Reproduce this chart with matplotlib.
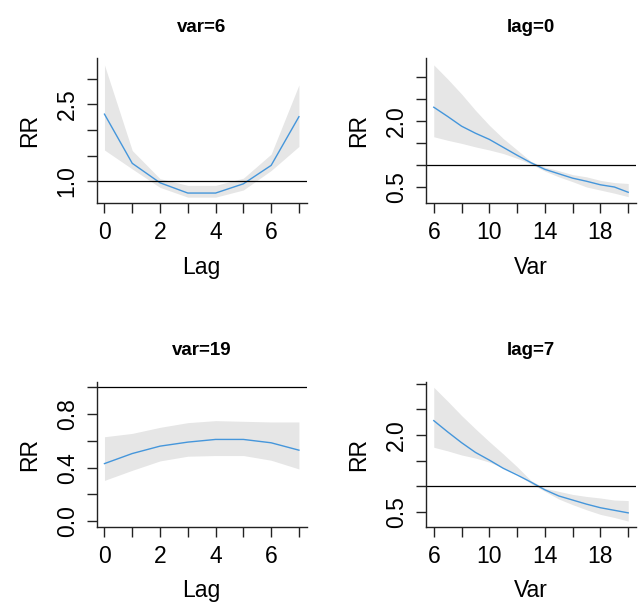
import matplotlib.pyplot as plt

plt.rcParams['font.family'] = ['Liberation Sans', 'DejaVu Sans']

# lag-response at var=6 and var=19
lag = [0, 1, 2, 3, 4, 5, 6, 7]
rr_v6 = [2.31, 1.35, 0.97, 0.77, 0.77, 0.95, 1.31, 2.26]
lo_v6 = [1.61, 1.24, 0.88, 0.69, 0.69, 0.83, 1.21, 1.68]
hi_v6 = [3.27, 1.60, 1.05, 0.92, 0.92, 1.06, 1.53, 2.88]

rr_v19 = [0.43, 0.505, 0.56, 0.59, 0.61, 0.61, 0.585, 0.53]
lo_v19 = [0.305, 0.38, 0.45, 0.485, 0.49, 0.49, 0.455, 0.39]
hi_v19 = [0.63, 0.655, 0.70, 0.735, 0.75, 0.745, 0.74, 0.74]

# exposure-response at lag=0 and lag=7
var = [6, 7, 8, 9, 10, 11, 12, 13, 14, 15, 16, 17, 18, 19, 20]
rr_l0 = [2.31, 2.10, 1.88, 1.72, 1.58, 1.40, 1.22, 1.05, 0.90, 0.80, 0.70, 0.63, 0.55, 0.50, 0.38]
lo_l0 = [1.64, 1.56, 1.49, 1.41, 1.34, 1.26, 1.15, 1.02, 0.86, 0.73, 0.62, 0.50, 0.43, 0.36, 0.28]
hi_l0 = [3.27, 2.95, 2.61, 2.24, 1.90, 1.60, 1.34, 1.08, 0.95, 0.87, 0.78, 0.73, 0.65, 0.60, 0.58]

rr_l7 = [2.28, 2.06, 1.85, 1.66, 1.51, 1.35, 1.22, 1.08, 0.93, 0.81, 0.73, 0.65, 0.58, 0.53, 0.48]
lo_l7 = [1.76, 1.69, 1.61, 1.55, 1.47, 1.36, 1.25, 1.05, 0.90, 0.75, 0.64, 0.54, 0.45, 0.39, 0.32]
hi_l7 = [2.93, 2.66, 2.38, 2.12, 1.87, 1.63, 1.38, 1.11, 0.96, 0.90, 0.84, 0.80, 0.77, 0.73, 0.72]

panels = [
    ("var=6", "Lag", lag, rr_v6, lo_v6, hi_v6, (0.57, 3.40),
     [1.0, 1.5, 2.0, 2.5, 3.0], ["1.0", "", "", "2.5", ""]),
    ("lag=0", "Var", var, rr_l0, lo_l0, hi_l0, (0.13, 3.42),
     [0.5, 1.0, 1.5, 2.0, 2.5, 3.0], ["0.5", "", "", "2.0", "", ""]),
    ("var=19", "Lag", lag, rr_v19, lo_v19, hi_v19, (-0.04, 1.04),
     [0.0, 0.2, 0.4, 0.6, 0.8, 1.0], ["0.0", "", "0.4", "", "0.8", ""]),
    ("lag=7", "Var", var, rr_l7, lo_l7, hi_l7, (0.21, 3.04),
     [0.5, 1.0, 1.5, 2.0, 2.5, 3.0], ["0.5", "", "", "2.0", "", ""]),
]

W, H = 643, 609
fig = plt.figure(figsize=(W / 100, H / 100), dpi=100)
# left / top of each plot region in pixels
boxes = [(96.7, 58.3), (426.0, 58.3), (96.7, 381.7), (426.0, 381.7)]
pw, ph = 210, 145

for (title, xlab, x, rr, lo, hi, ylim, yt, ytl), (l, t) in zip(panels, boxes):
    ax = fig.add_axes([l / W, 1 - (t + ph) / H, pw / W, ph / H])
    ax.fill_between(x, lo, hi, color="#e6e6e6", linewidth=0)
    ax.plot(x, rr, color="#4596db", linewidth=1.0)
    ax.axhline(1.0, color="black", linewidth=0.9)

    span = x[-1] - x[0]
    ax.set_xlim(x[0] - 0.04 * span, x[-1] + 0.04 * span)
    ax.set_ylim(*ylim)
    if xlab == "Lag":
        ax.set_xticks(lag)
        ax.set_xticklabels([str(v) if v % 2 == 0 else "" for v in lag])
    else:
        xt = list(range(6, 21, 2))
        ax.set_xticks(xt)
        ax.set_xticklabels([str(v) if v in (6, 10, 14, 18) else "" for v in xt])
    ax.set_yticks(yt)
    ax.set_yticklabels(ytl, rotation=90, va="center")

    for s in ("top", "right"):
        ax.spines[s].set_visible(False)
    for s in ("left", "bottom"):
        ax.spines[s].set_linewidth(1.0)
        ax.spines[s].set_color("#222222")
    ax.tick_params(direction="out", length=7, width=1.0, color="#222222",
                   labelsize=16.5, pad=6)

    ax.set_title(title, fontsize=13.5, fontweight="bold", pad=19)
    ax.set_xlabel(xlab, fontsize=16.5)
    ax.set_ylabel("RR", fontsize=16.5)
    ax.xaxis.set_label_coords(0.5, -0.36)
    ax.yaxis.set_label_coords(-0.265, 0.5)

fig.savefig("out.png", dpi=100)
